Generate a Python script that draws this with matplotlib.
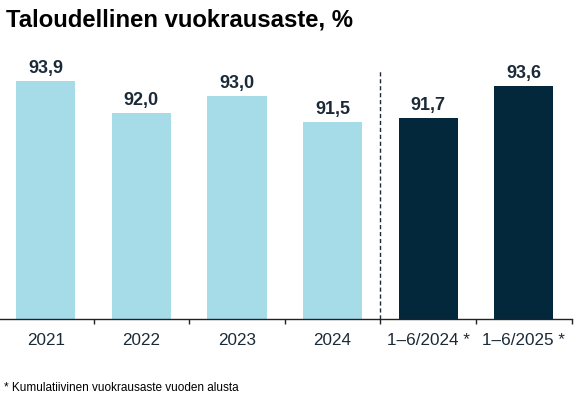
import matplotlib
matplotlib.use("Agg")
import matplotlib.pyplot as plt
import numpy as np

categories = ["2021", "2022", "2023", "2024", "1–6/2024 *", "1–6/2025 *"]
values = [93.9, 92.0, 93.0, 91.5, 91.7, 93.6]
labels = ["93,9", "92,0", "93,0", "91,5", "91,7", "93,6"]
light = "#a6dbe8"
dark = "#03283c"
colors = [light, light, light, light, dark, dark]
text_color = "#1b2a38"

plt.rcParams['font.family'] = ['Liberation Sans', 'DejaVu Sans']

W, H = 578, 399
fig = plt.figure(figsize=(W/100, H/100), dpi=100)
ax_bottom_px = 319.3
ax_top_px = 60
ax = fig.add_axes([-2/W, (H - ax_bottom_px)/H, 573.6/W, (ax_bottom_px - ax_top_px)/H])
x = np.arange(len(categories))
ax.bar(x, values, width=0.62, color=colors)
px_per_unit = 17.17
ax.set_ylim(80, 80 + (ax_bottom_px - ax_top_px)/px_per_unit)
ax.set_xlim(-0.5, 5.5)

for xi, v, lab in zip(x, values, labels):
    ax.annotate(lab, (xi, v), xytext=(0, 5.8), textcoords="offset points",
                ha="center", va="baseline", fontsize=13, fontweight="bold",
                color=text_color)

for s in ["top", "right", "left"]:
    ax.spines[s].set_visible(False)
ax.spines["bottom"].set_color("#222222")
ax.spines["bottom"].set_linewidth(1.0)
ax.set_yticks([])

ax.set_xticks(np.arange(0.5, 6.0, 1.0))
ax.set_xticklabels([])
ax.tick_params(axis="x", which="major", length=3.6, width=1.0, color="#222222")
ax.set_xticks(x, minor=True)
ax.set_xticklabels(categories, minor=True, fontsize=12.3, color=text_color)
ax.tick_params(axis="x", which="minor", length=0, pad=10)

ax.axvline(3.5, ymin=0, ymax=(ax_bottom_px - 70)/(ax_bottom_px - ax_top_px),
           color="#1b2a38", linestyle=(0, (3, 2)), linewidth=1.0)

fig.text(6/W, 1 - 26/H, "Taloudellinen vuokrausaste, %", fontsize=17.2,
         fontweight="bold", color="black", va="baseline", ha="left")
fig.text(4/W, 1 - 391/H, "* Kumulatiivinen vuokrausaste vuoden alusta",
         fontsize=8.5, color="black", va="baseline", ha="left")

fig.savefig("out.png", dpi=100)
